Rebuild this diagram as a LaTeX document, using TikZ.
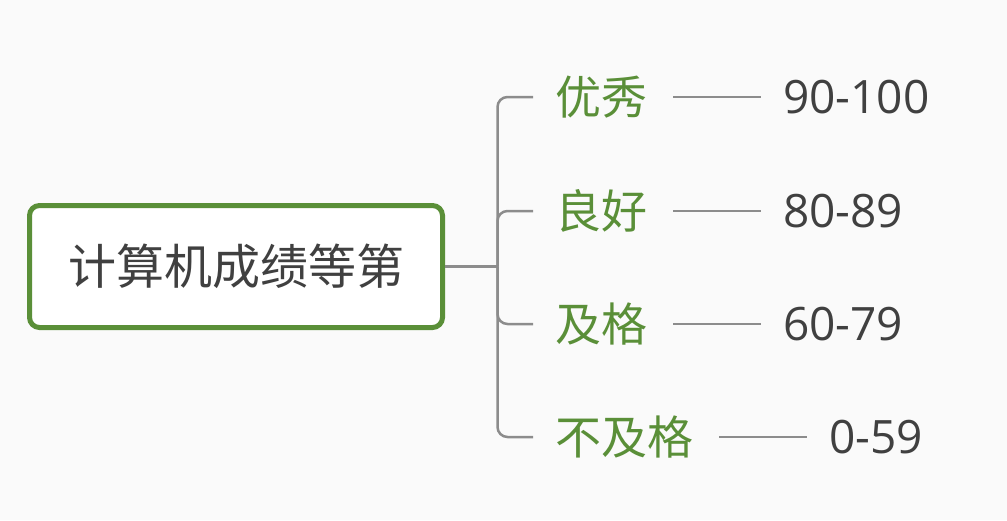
\documentclass[tikz,border=0pt]{standalone}
\usepackage{fontspec}
\setmainfont{Open Sans}
\newfontfamily\cjk{Noto Sans CJK SC}
\definecolor{bg}{HTML}{FAFAFA}
\definecolor{grn}{HTML}{5A8F38}
\definecolor{lin}{HTML}{8C8C8C}
\definecolor{txt}{HTML}{404040}
\begin{document}
\begin{tikzpicture}[x=1pt,y=-1pt,
  root/.style={draw=grn, line width=5pt, fill=white, rounded corners=10pt,
    minimum width=413pt, minimum height=122pt, inner sep=0pt,
    font=\cjk\fontsize{48}{52}\selectfont, text=txt},
  branch/.style={anchor=west, inner sep=0pt, text=grn, font=\cjk\fontsize{46}{50}\selectfont},
  leaf/.style={anchor=west, inner sep=0pt, text=txt, font=\fontsize{46}{50}\selectfont},
  conn/.style={draw=lin, line width=2.5pt},
  tie/.style={draw=lin, line width=2.5pt, shorten <=26pt, shorten >=22pt}]
\fill[bg] (0,0) rectangle (1007,520);
\useasboundingbox (0,0) rectangle (1007,520);
\node[root] (r) at (236,266.5) {计算机成绩等第};
\coordinate (j) at (497.5,266.5);
\node[branch] (b1) at (555,97) {优秀};
\node[branch] (b2) at (555,211) {良好};
\node[branch] (b3) at (555,324) {及格};
\node[branch] (b4) at (555,437) {不及格};
\node[leaf] (l1) at (783,97) {90-100};
\node[leaf] (l2) at (783,211) {80-89};
\node[leaf] (l3) at (783,324) {60-79};
\node[leaf] (l4) at (829,437) {0-59};
\draw[conn] (r.east) -- (j);
\foreach \b in {b1,b2,b3,b4}{
  \draw[conn, rounded corners=10pt] (j) |- ([xshift=-22pt]\b.west);
}
\draw[tie] (b1.east) -- (l1.west);
\draw[tie] (b2.east) -- (l2.west);
\draw[tie] (b3.east) -- (l3.west);
\draw[tie] (b4.east) -- (l4.west);
\end{tikzpicture}
\end{document}
